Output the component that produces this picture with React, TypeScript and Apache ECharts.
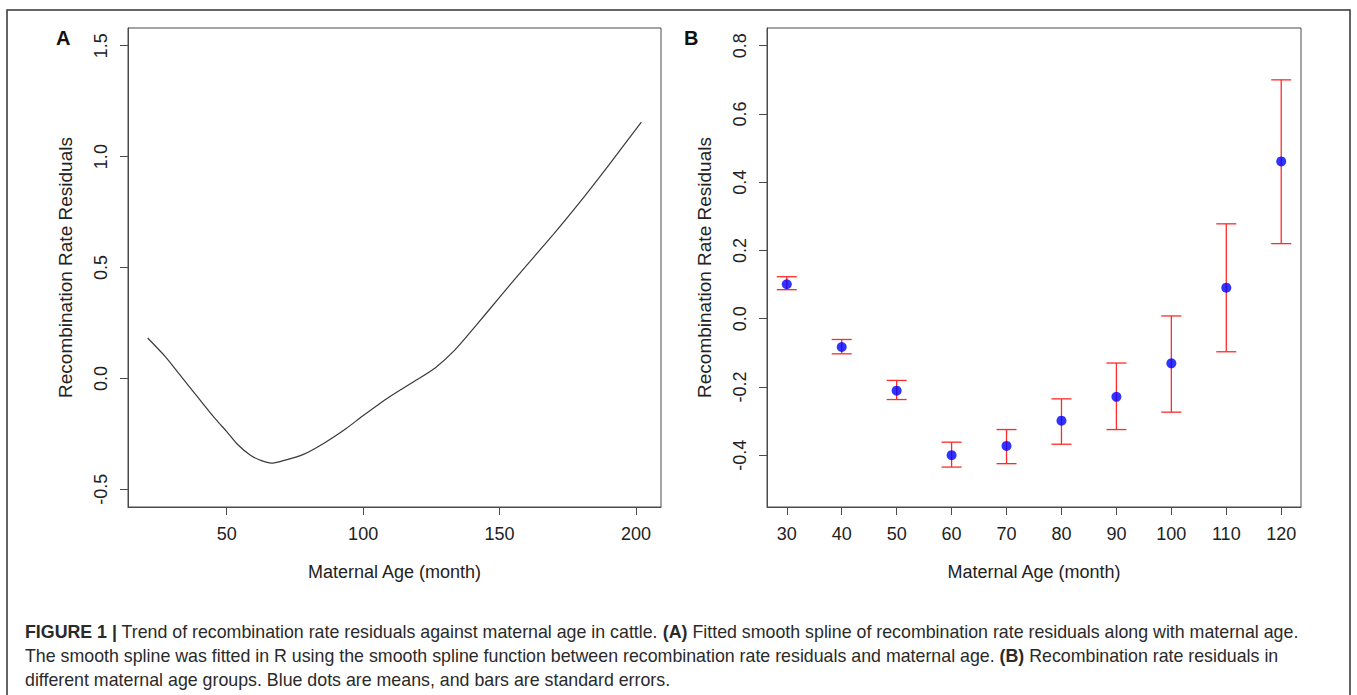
import React, { useEffect, useRef } from "react";
import * as echarts from "echarts";

// Panel A: fitted smoothing spline (maternal age in months vs residual)
const splineAge = [21, 27.7, 33.2, 39.6, 46, 50, 54, 58.7, 62.7, 66.4, 69.9, 77.9, 85.8, 93.8, 99.8, 109.7, 119.2, 126.4, 133.5, 141.5, 150.3, 157.5, 170.2, 181.3, 190.9, 202];
const splineResid = [0.182, 0.095, 0.01, -0.088, -0.185, -0.24, -0.298, -0.347, -0.371, -0.382, -0.374, -0.344, -0.291, -0.226, -0.17, -0.083, -0.01, 0.047, 0.126, 0.24, 0.37, 0.475, 0.656, 0.823, 0.975, 1.156];
const xTicksA = [50, 100, 150, 200];
const yTicksA = [-0.5, 0, 0.5, 1.0, 1.5];

// Panel B: group means and standard error bounds
const groupAge = [30, 40, 50, 60, 70, 80, 90, 100, 110, 120];
const groupMean = [0.101, -0.083, -0.211, -0.4, -0.373, -0.299, -0.229, -0.131, 0.091, 0.461];
const groupUpper = [0.123, -0.061, -0.181, -0.362, -0.325, -0.235, -0.13, 0.008, 0.278, 0.7];
const groupLower = [0.085, -0.103, -0.237, -0.435, -0.425, -0.368, -0.325, -0.274, -0.097, 0.22];
const xTicksB = [30, 40, 50, 60, 70, 80, 90, 100, 110, 120];
const yTicksB = [-0.4, -0.2, 0, 0.2, 0.4, 0.6, 0.8];

const xTitle = "Maternal Age (month)";
const yTitle = "Recombination Rate Residuals";
const captionLines = [
  "{b|FIGURE 1 |} Trend of recombination rate residuals against maternal age in cattle. {b|(A)} Fitted smooth spline of recombination rate residuals along with maternal age.",
  "The smooth spline was fitted in R using the smooth spline function between recombination rate residuals and maternal age. {b|(B)} Recombination rate residuals in",
  "different maternal age groups. Blue dots are means, and bars are standard errors.",
];

const FONT = "'Liberation Sans', Arial, Helvetica, sans-serif";
const INK = "#222";
const FRAME = "#4a4a4a";

function makeXAxis(gridIndex: number, min: number, max: number, ticks: number[]) {
  return {
    type: "value",
    gridIndex,
    min,
    max,
    name: xTitle,
    nameLocation: "middle",
    nameGap: 56,
    nameTextStyle: { fontFamily: FONT, fontSize: 18, color: INK },
    axisLine: { show: true, onZero: false, lineStyle: { color: FRAME, width: 1 } },
    axisTick: { show: true, inside: false, length: 8, lineStyle: { color: FRAME, width: 1 }, customValues: ticks },
    axisLabel: { show: true, margin: 18, fontFamily: FONT, fontSize: 18, color: INK, customValues: ticks, formatter: (v: number) => String(v) },
    splitLine: { show: false },
  };
}

function makeYAxis(gridIndex: number, min: number, max: number, ticks: number[]) {
  return {
    type: "value",
    gridIndex,
    min,
    max,
    name: yTitle,
    nameLocation: "middle",
    nameGap: 53,
    nameTextStyle: { fontFamily: FONT, fontSize: 19, color: INK },
    axisLine: { show: true, onZero: false, lineStyle: { color: FRAME, width: 1 } },
    axisTick: { show: true, inside: false, length: 8, lineStyle: { color: FRAME, width: 1 }, customValues: ticks },
    axisLabel: { show: true, rotate: 90, margin: 18, fontFamily: FONT, fontSize: 18, color: INK, customValues: ticks, formatter: (v: number) => v.toFixed(1) },
    splitLine: { show: false },
  };
}

export default function App() {
  const ref = useRef<HTMLDivElement>(null);
  useEffect(() => {
    document.body.style.margin = "0";
    if (!ref.current) return;
    const chart = echarts.init(ref.current, undefined, { renderer: "svg" });
    const errData = groupAge.map((a, i) => [a, groupLower[i], groupUpper[i]]);
    const option: any = {
      animation: false,
      backgroundColor: "#ffffff",
      grid: [
        { left: 128, top: 28, width: 533, height: 479, show: true, borderColor: FRAME, borderWidth: 1, backgroundColor: "transparent", outerBoundsMode: "none" },
        { left: 767, top: 28, width: 534, height: 479, show: true, borderColor: FRAME, borderWidth: 1, backgroundColor: "transparent", outerBoundsMode: "none" },
      ],
      xAxis: [makeXAxis(0, 13.8, 209.2, xTicksA), makeXAxis(1, 26.4, 123.6, xTicksB)],
      yAxis: [makeYAxis(0, -0.58, 1.58, yTicksA), makeYAxis(1, -0.552, 0.852, yTicksB)],
      series: [
        {
          type: "line",
          xAxisIndex: 0,
          yAxisIndex: 0,
          data: splineAge.map((a, i) => [a, splineResid[i]]),
          showSymbol: false,
          smooth: 0.25,
          lineStyle: { color: "#3a3a3a", width: 1.2 },
          silent: true,
        },
        {
          type: "custom",
          xAxisIndex: 1,
          yAxisIndex: 1,
          data: errData,
          encode: { x: 0, y: [1, 2] },
          renderItem: (params: any, api: any) => {
            const x = api.value(0);
            const lo = api.value(1);
            const hi = api.value(2);
            const pHi = api.coord([x, hi]);
            const pLo = api.coord([x, lo]);
            const hw = 10;
            const style = { stroke: "#ff2a2a", lineWidth: 1.3 };
            return {
              type: "group",
              children: [
                { type: "line", shape: { x1: pHi[0], y1: pHi[1], x2: pLo[0], y2: pLo[1] }, style },
                { type: "line", shape: { x1: pHi[0] - hw, y1: pHi[1], x2: pHi[0] + hw, y2: pHi[1] }, style },
                { type: "line", shape: { x1: pLo[0] - hw, y1: pLo[1], x2: pLo[0] + hw, y2: pLo[1] }, style },
              ],
            };
          },
          silent: true,
          z: 2,
        },
        {
          type: "scatter",
          xAxisIndex: 1,
          yAxisIndex: 1,
          data: groupAge.map((a, i) => [a, groupMean[i]]),
          symbol: "circle",
          symbolSize: 10,
          itemStyle: { color: "#0000ff" },
          silent: true,
          z: 3,
        },
      ],
      graphic: [
        { type: "rect", shape: { x: 7, y: 10, width: 1343, height: 700 }, style: { fill: "none", stroke: "#333", lineWidth: 1.5 }, z: -1, silent: true },
        { type: "text", x: 56, y: 38, style: { text: "A", fontFamily: FONT, fontSize: 20, fontWeight: "bold", fill: "#111", verticalAlign: "middle" }, silent: true },
        { type: "text", x: 684, y: 38, style: { text: "B", fontFamily: FONT, fontSize: 20, fontWeight: "bold", fill: "#111", verticalAlign: "middle" }, silent: true },
        ...captionLines.map((line, i) => ({
          type: "text",
          x: 25,
          y: 632 + i * 24,
          silent: true,
          style: {
            text: line,
            fontFamily: FONT,
            fontSize: 17.8,
            fill: "#2a2a2a",
            verticalAlign: "middle",
            rich: { b: { fontFamily: FONT, fontSize: 17.8, fontWeight: "bold", fill: "#2a2a2a" } },
          },
        })),
      ],
    };
    chart.setOption(option);
    return () => chart.dispose();
  }, []);
  return <div ref={ref} style={{ width: 1357, height: 695 }} />;
}
